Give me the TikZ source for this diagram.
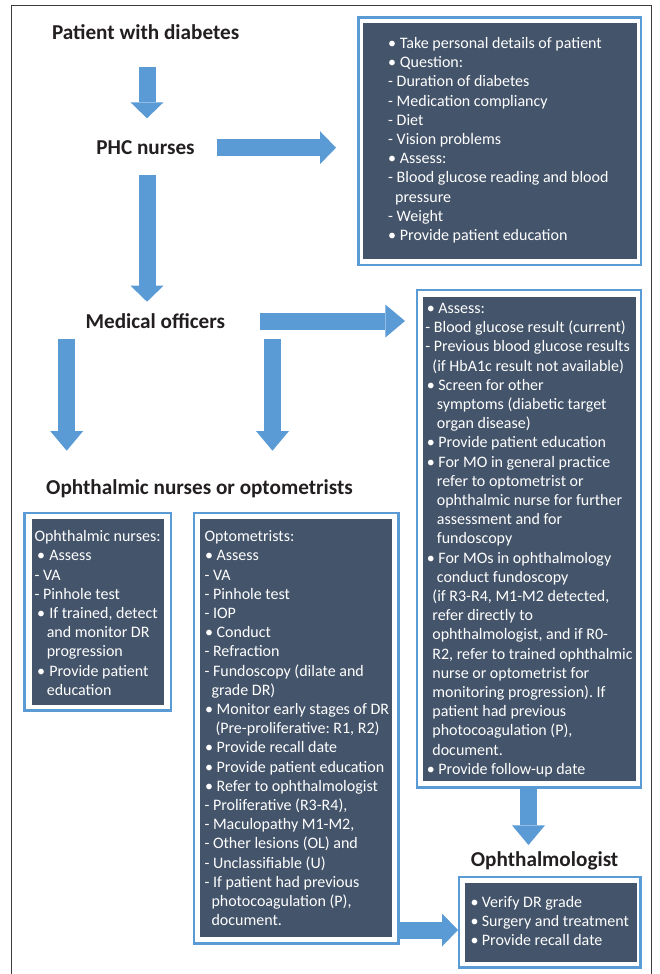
\documentclass[tikz,border=0pt]{standalone}
\usepackage{fontspec}
\setmainfont{Carlito}
\usetikzlibrary{arrows.meta}
\frenchspacing
\definecolor{darkbox}{HTML}{44546A}
\definecolor{ablue}{HTML}{5B9BD5}
\definecolor{headc}{HTML}{231F20}
\definecolor{framec}{HTML}{3C3C3C}
\newcommand\bl[2]{\hspace*{#1}\makebox[#2][l]{\textbullet}}
\newcommand\bP{\bl{0pt}{11.7pt}}
\newcommand\bM{\bl{1.5pt}{11.5pt}}
\newcommand\bN{\bl{2.5pt}{12.3pt}}
\newcommand\bO{\bl{0.5pt}{11.7pt}}
\newcommand\bH{\bl{0pt}{11.3pt}}
\newcommand\ind[1]{\hspace*{#1}}
\tikzset{
  heading/.style={font={\fontsize{21.2}{25}\selectfont\bfseries}, text=headc, inner sep=0pt, anchor=base west},
  boxtext/.style={font={\fontsize{16}{19.2}\selectfont\frenchspacing}, text=white, inner sep=0pt, anchor=north west, align=left},
  bord/.style={draw=ablue, line width=2.5pt, fill=white, inner sep=0pt, outer sep=0pt, anchor=north west},
  dbox/.style={fill=darkbox, inner sep=0pt, outer sep=0pt, anchor=north west},
  barrow/.style={draw=ablue, line width=17pt, -{Triangle[length=16pt, width=33pt, line width=0pt, fill=ablue]}},
  barrowl/.style={draw=ablue, line width=17pt, -{Triangle[length=19.7pt, width=33pt, line width=0pt, fill=ablue]}},
  framel/.style={draw=framec, line width=1.3pt}
}
\begin{document}
\begin{tikzpicture}[x=1pt, y=-1pt]
\useasboundingbox (0,0) rectangle (660,974);
\fill[white] (0,0) rectangle (660,974);
\draw[framel] (11.5,974) -- (11.5,5.7) -- (651.7,5.7) -- (651.7,974);

% headings
\node[heading] (patient) at (51.8,40) {Patient with diabetes};
\node[heading] (phc) at (96.2,154) {PHC nurses};
\node[heading] (mo) at (85.4,328) {Medical officers};
\node[heading] (onop) at (46,494.5) {Ophthalmic nurses or optometrists};
\node[heading] (oph) at (470.7,866) {Ophthalmologist};

% boxes
\node[bord, minimum width=282.5pt, minimum height=247.5pt] (phcb) at (358.5,17.5) {};
\node[dbox, minimum width=273.5pt, minimum height=235.5pt] (phcd) at (363,23) {};
\node[bord, minimum width=224pt, minimum height=497.5pt] (mob) at (417,290) {};
\node[dbox, minimum width=213pt, minimum height=483.5pt] (mod) at (423,297) {};
\node[bord, minimum width=146.5pt, minimum height=197.5pt] (nurb) at (24.5,513) {};
\node[dbox, minimum width=132pt, minimum height=186pt] (nurd) at (32,519) {};
\node[bord, minimum width=204.5pt, minimum height=430.5pt] (optb) at (194,513) {};
\node[dbox, minimum width=192pt, minimum height=418pt] (optd) at (200,519) {};
\node[bord, minimum width=181.5pt, minimum height=90.5pt] (ophb) at (459,877) {};
\node[dbox, minimum width=171.5pt, minimum height=78.4pt] (ophd) at (465,883.3) {};

% box texts
\node[boxtext] (phct) at (388,34.86) {\strut\bP Take personal details of patient\\
\bP Question:\\
- Duration of diabetes\\
- Medication compliancy\\
- Diet\\
- Vision problems\\
\bP Assess:\\
- Blood glucose reading and blood\\
\ind{7pt}pressure\\
- Weight\\
\bP Provide patient education};

\node[boxtext] (mot) at (425.2,299.86) {\strut\bM Assess:\\
- Blood glucose result (current)\\
- Previous blood glucose results\\
\ind{7pt}(if HbA1c result not available)\\
\bM Screen for other\\
\ind{11.5pt}symptoms (diabetic target\\
\ind{11.5pt}organ disease)\\
\bM Provide patient education\\
\bM For MO in general practice\\
\ind{11.5pt}refer to optometrist or\\
\ind{11.5pt}ophthalmic nurse for further\\
\ind{11.5pt}assessment and for\\
\ind{11.5pt}fundoscopy\\
\bM For MOs in ophthalmology\\
\ind{11.5pt}conduct fundoscopy\\
\ind{7pt}(if R3-R4, M1-M2 detected,\\
\ind{7pt}refer directly to\\
\ind{7pt}ophthalmologist, and if R0-\\
\ind{7pt}R2, refer to trained ophthalmic\\
\ind{7pt}nurse or optometrist for\\
\ind{7pt}monitoring progression). If\\
\ind{7pt}patient had previous\\
\ind{7pt}photocoagulation (P),\\
\ind{7pt}document.\\
\bM Provide follow-up date};

\node[boxtext] (nurt) at (34.3,528.06) {\strut Ophthalmic nurses:\\
\bN Assess\\
- VA\\
- Pinhole test\\
\bN If trained, detect\\
\ind{12.3pt}and monitor DR\\
\ind{12.3pt}progression\\
\bN Provide patient\\
\ind{12.3pt}education};

\node[boxtext] (optt) at (204.3,528.06) {\strut Optometrists:\\
\bO Assess\\
- VA\\
- Pinhole test\\
- IOP\\
\bO Conduct\\
- Refraction\\
- Fundoscopy (dilate and\\
\ind{7pt}grade DR)\\
\bO Monitor early stages of DR\\
\ind{11pt}(Pre-proliferative: R1, R2)\\
\bO Provide recall date\\
\bO Provide patient education\\
\bO Refer to ophthalmologist\\
- Proliferative (R3-R4),\\
- Maculopathy M1-M2,\\
- Other lesions (OL) and\\
- Unclassifiable (U)\\
- If patient had previous\\
\ind{7pt}photocoagulation (P),\\
\ind{7pt}document.};

\node[boxtext] (opht) at (470.4,893.56) {\strut\bH Verify DR grade\\
\bH Surgery and treatment\\
\bH Provide recall date};

% arrow end points
\coordinate (a1s) at (147,66.7);   \coordinate (a1e) at (147,118.3);
\coordinate (a2s) at (147,175);    \coordinate (a2e) at (147,301.7);
\coordinate (a3s) at (216.7,147.7); \coordinate (a3e) at (336,147.7);
\coordinate (a4s) at (66.7,339.3); \coordinate (a4e) at (66.7,450.7);
\coordinate (a5s) at (272.5,339.3); \coordinate (a5e) at (272.5,450.7);
\coordinate (a6s) at (260,321);    \coordinate (a6e) at (405,321);
\coordinate (a7s) at (528.5,788);  \coordinate (a7e) at (528.5,845);
\coordinate (a8s) at (400,930);    \coordinate (a8e) at (458,930);

\draw[barrow] (a1s) -- (a1e);
\draw[barrow] (a2s) -- (a2e);
\draw[barrow] (a3s) -- (a3e);
\draw[barrowl] (a4s) -- (a4e);
\draw[barrowl] (a5s) -- (a5e);
\draw[barrowl] (a6s) -- (a6e);
\draw[barrowl] (a7s) -- (a7e);
\draw[barrow] (a8s) -- (a8e);
\end{tikzpicture}
\end{document}
